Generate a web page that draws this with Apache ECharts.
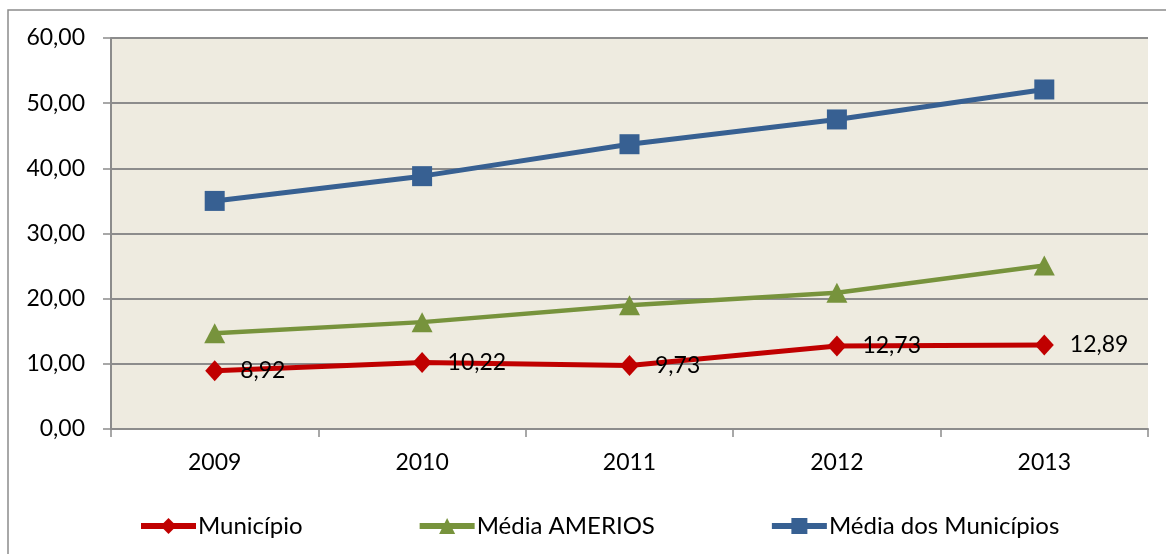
<!DOCTYPE html>
<html>
<head>
<meta charset="utf-8">
<script src="https://cdn.jsdelivr.net/npm/echarts@6/dist/echarts.min.js"></script>
<style>
html,body{margin:0;padding:0;background:#fff;}
#chart{width:1166px;height:554px;}
</style>
</head>
<body>
<div id="chart"></div>
<script>
const categories = ['2009', '2010', '2011', '2012', '2013'];
const municipio = [8.92, 10.22, 9.73, 12.73, 12.89];
const mediaAmerios = [14.7, 16.4, 19.0, 20.9, 25.1];
const mediaMunicipios = [35.0, 38.8, 43.7, 47.5, 52.1];
const seriesNames = ['Município', 'Média AMERIOS', 'Média dos Municípios'];
const yTicks = { min: 0, max: 60, interval: 10 };

const FONT = 'Lato, "Open Sans", sans-serif';
const chart = echarts.init(document.getElementById('chart'));
const fmt = v => v.toFixed(2).replace('.', ',');

chart.setOption({
  animation: false,
  backgroundColor: '#ffffff',
  graphic: [{
    type: 'rect',
    z: -10,
    shape: { x: 8, y: 10, width: 1200, height: 600 },
    style: { fill: 'none', stroke: '#8c8c8c', lineWidth: 1.5 }
  }],
  grid: {
    left: 111, right: 18, top: 38, bottom: 125,
    show: true, backgroundColor: '#eeebe0', borderWidth: 0
  },
  legend: {
    left: 138, top: 514, padding: 0,
    itemWidth: 55, itemHeight: 20, itemGap: 114,
    lineStyle: { width: 6 },
    textStyle: { fontFamily: FONT, fontSize: 24, color: '#000', padding: [0, 0, 0, -3] },
    data: seriesNames
  },
  xAxis: {
    type: 'category',
    data: categories,
    boundaryGap: true,
    axisLine: { show: true, lineStyle: { color: '#8c8c8c', width: 2 } },
    axisTick: { show: true, length: 8, lineStyle: { color: '#8c8c8c', width: 1.5 } },
    axisLabel: { fontFamily: FONT, fontSize: 23, color: '#000', margin: 22 },
    splitLine: { show: false }
  },
  yAxis: {
    type: 'value',
    min: yTicks.min, max: yTicks.max, interval: yTicks.interval,
    axisLine: { show: true, lineStyle: { color: '#8c8c8c', width: 2 } },
    axisTick: { show: true, length: 8, lineStyle: { color: '#8c8c8c', width: 1.5 } },
    axisLabel: { fontFamily: FONT, fontSize: 23, color: '#000', margin: 26, formatter: v => fmt(v) },
    splitLine: { show: true, lineStyle: { color: '#8c8c8c', width: 2 } }
  },
  series: [
    {
      name: seriesNames[0], type: 'line', data: municipio,
      symbol: 'diamond', symbolSize: [19, 21],
      lineStyle: { color: '#c00000', width: 5 },
      itemStyle: { color: '#c00000' },
      label: {
        show: true, position: 'right', distance: 16,
        fontFamily: FONT, fontSize: 23, color: '#000',
        formatter: p => fmt(p.value)
      },
      z: 4
    },
    {
      name: seriesNames[1], type: 'line', data: mediaAmerios,
      symbol: 'triangle', symbolSize: [21, 20],
      lineStyle: { color: '#77933c', width: 4.5 },
      itemStyle: { color: '#77933c' },
      z: 3
    },
    {
      name: seriesNames[2], type: 'line', data: mediaMunicipios,
      symbol: 'rect', symbolSize: 20,
      lineStyle: { color: '#376092', width: 5 },
      itemStyle: { color: '#376092' },
      z: 3
    }
  ]
});
</script>
</body>
</html>
